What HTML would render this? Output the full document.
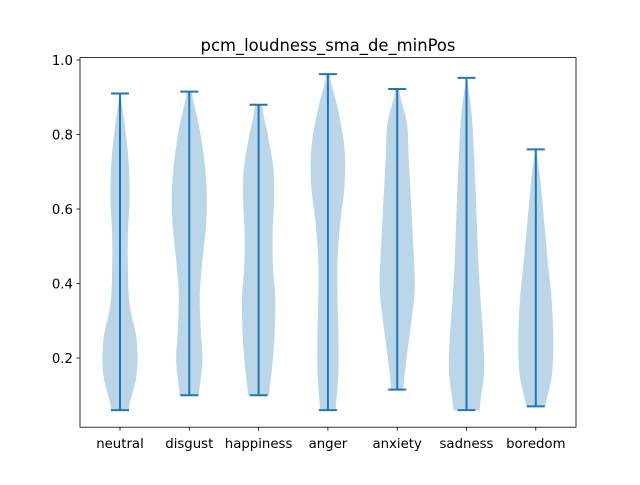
<!DOCTYPE html>
<html><head><meta charset="utf-8"><style>
html,body{margin:0;padding:0;background:#fff;}
svg text{font-family:"DejaVu Sans","Liberation Sans",sans-serif;fill:#000;}
</style></head><body>
<svg id="chart" width="640" height="480" xmlns="http://www.w3.org/2000/svg">
<rect width="640" height="480" fill="#fff"/>
<text x="328" y="51" text-anchor="middle" font-size="16.4">pcm_loudness_sma_de_minPos</text>
<g id="violins"></g>
<g id="yaxis"></g>
<g id="xaxis"></g>
<rect x="80" y="57.6" width="496" height="369.6" fill="none" stroke="#000" stroke-width="0.8"/>
</svg>
<script>
const categories = ["neutral","disgust","happiness","anger","anxiety","sadness","boredom"];
const mins = [0.06,0.10,0.10,0.06,0.115,0.06,0.07];
const maxs = [0.91,0.915,0.88,0.962,0.922,0.952,0.76];
const dNeutral = [0.5,0.95,0.95,0.55,0.45,0.45,0.55,0.5,0.3,0.05];
const dDisgust = [0.55,0.75,0.65,0.6,0.75,0.95,1.0,0.85,0.55,0.15];
const dHappiness = [0.6,0.8,0.92,0.95,0.82,0.8,0.88,0.85,0.55,0.2];
const dAnger = [0.45,0.6,0.6,0.55,0.55,0.7,0.95,0.95,0.6,0.1];
const dAnxiety = [0.35,0.55,0.8,1.0,0.95,0.85,0.75,0.65,0.55,0.1];
const dSadness = [0.75,1.0,0.95,0.8,0.68,0.6,0.52,0.42,0.3,0.05];
const dBoredom = [0.55,0.9,1.0,0.97,0.87,0.7,0.55,0.4,0.25,0.05];
const densities = [dNeutral,dDisgust,dHappiness,dAnger,dAnxiety,dSadness,dBoredom];
const yTicks = [0.2,0.4,0.6,0.8,1.0];
const yTickLabels = ["0.2","0.4","0.6","0.8","1.0"];

const NS="http://www.w3.org/2000/svg";
const X0=0.4228, XK=69.3, PL=80;
function xs(i){return PL+(i+1-X0)*XK;}
const Y0=432.5, YK=372.5;
function ys(v){return Y0-v*YK;}
function mk(tag,attrs,parent){const e=document.createElementNS(NS,tag);for(const k in attrs)e.setAttribute(k,attrs[k]);parent.appendChild(e);return e;}
function interp(d,t){
  const n=d.length-1, f=t*n, i=Math.min(Math.floor(f),n-1), u=f-i;
  const p0=d[Math.max(i-1,0)],p1=d[i],p2=d[i+1],p3=d[Math.min(i+2,n)];
  return 0.5*((2*p1)+(-p0+p2)*u+(2*p0-5*p1+4*p2-p3)*u*u+(-p0+3*p1-3*p2+p3)*u*u*u);
}
const vg=document.getElementById('violins');
const HW=17.5, CAP=9, C="#1f77b4";
categories.forEach((c,i)=>{
  const cx=xs(i), d=densities[i], lo=mins[i], hi=maxs[i];
  const right=[], left=[];
  const N=60;
  for(let k=0;k<=N;k++){const t=k/N;const v=lo+(hi-lo)*t;const w=Math.max(0,interp(d,t))*HW;const y=ys(v);right.push((cx+w).toFixed(2)+","+y.toFixed(2));left.unshift((cx-w).toFixed(2)+","+y.toFixed(2));}
  const body=mk('polygon',{points:right.concat(left).join(" "),fill:C,'fill-opacity':0.3,stroke:'none'},vg);
  
  
  const bar=mk('line',{x1:cx,x2:cx,y1:ys(lo),y2:ys(hi),stroke:C,'stroke-width':2},vg);
  
  
  const capT=mk('line',{x1:cx-CAP,x2:cx+CAP,y1:ys(hi),y2:ys(hi),stroke:C,'stroke-width':2},vg);
  
  
  const capB=mk('line',{x1:cx-CAP,x2:cx+CAP,y1:ys(lo),y2:ys(lo),stroke:C,'stroke-width':2},vg);
  
  
});
const xg=document.getElementById('xaxis');
categories.forEach((c,i)=>{
  const x=xs(i);
  const t=mk('line',{x1:x,x2:x,y1:427.2,y2:430.7,stroke:'#000','stroke-width':0.8},xg);
  
  
  const l=mk('text',{x:x,y:448,'text-anchor':'middle','font-size':13.3},xg);
  l.textContent=c;
  
  
});
const yg=document.getElementById('yaxis');
yTicks.forEach((v,i)=>{
  const y=ys(v);
  const t=mk('line',{x1:76.5,x2:80,y1:y,y2:y,stroke:'#000','stroke-width':0.8},yg);
  
  
  const l=mk('text',{x:73,y:y+4.8,'text-anchor':'end','font-size':13.3},yg);
  l.textContent=yTickLabels[i];
  
  
});
</script>
</body></html>
